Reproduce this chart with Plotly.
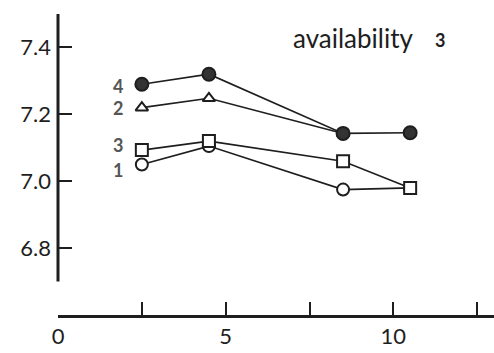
import plotly.graph_objects as go

# Sampling times (x) and responses for the four treatments
x_times = [2.5, 4.5, 8.5, 10.5]
series_1 = [7.05, 7.105, 6.975, 6.98]
series_2 = [7.22, 7.248, 7.143]
series_3 = [7.093, 7.12, 7.06, 6.98]
series_4 = [7.29, 7.32, 7.143, 7.145]

x_tickvals = [0, 2.5, 5, 7.5, 10, 12.5]
x_ticktext = ["0", "", "5", "", "10", ""]
y_tickvals = [6.8, 7.0, 7.2, 7.4]
y_ticktext = ["6.8", "7.0", "7.2", "7.4"]

ink = "#1e1e1e"
label_grey = "#555555"
font_family = "Lato, 'Open Sans', 'DejaVu Sans', sans-serif"

fig = go.Figure()

def add_series(name, ys, symbol, fill, size, yshift=0):
    xs = x_times[:len(ys)]
    fig.add_trace(go.Scatter(
        x=xs, y=ys, mode="lines+markers", name=name,
        line=dict(color=ink, width=1.6),
        marker=dict(symbol=symbol, size=size, color=fill,
                    line=dict(color=ink, width=2)),
        showlegend=False, cliponaxis=False,
    ))
    fig.add_annotation(x=xs[0], y=ys[0], text=f"<b>{name}</b>",
                       showarrow=False, xanchor="right", xshift=-17,
                       yshift=yshift,
                       font=dict(size=18, color=label_grey, family=font_family))

add_series("1", series_1, "circle", "white", 12, yshift=-5)
add_series("3", series_3, "square", "white", 12, yshift=5)
add_series("2", series_2, "triangle-up", "white", 11)
add_series("4", series_4, "circle", "#333333", 13, yshift=-2)

# vertical axis line, stopping short of the horizontal axis
fig.add_shape(type="line", xref="paper", yref="y", x0=0, x1=0, y0=6.7, y1=7.5,
              line=dict(color=ink, width=3))

fig.add_annotation(xref="paper", yref="paper", x=0.535, y=0.92,
                   text="availability",
                   showarrow=False, xanchor="left", yanchor="middle",
                   font=dict(size=26, color=ink, family=font_family))
fig.add_annotation(xref="paper", yref="paper", x=0.876, y=0.915,
                   text="<b>3</b>",
                   showarrow=False, xanchor="center", yanchor="middle",
                   font=dict(size=18, color=ink, family=font_family))

fig.update_layout(
    width=494, height=353,
    margin=dict(l=58, r=0, t=14, b=38),
    paper_bgcolor="white", plot_bgcolor="white",
    xaxis=dict(range=[0, 13], tickvals=x_tickvals, ticktext=x_ticktext,
               ticks="inside", ticklen=13, tickwidth=2, tickcolor=ink,
               showline=True, linecolor=ink, linewidth=3,
               showgrid=False, zeroline=False,
               tickfont=dict(size=22, color=ink, family=font_family)),
    yaxis=dict(range=[6.6, 7.5], tickvals=y_tickvals, ticktext=y_ticktext,
               ticks="inside", ticklen=14, tickwidth=2, tickcolor=ink,
               showline=False, showgrid=False, zeroline=False,
               ticklabelstandoff=6,
               tickfont=dict(size=22, color=ink, family=font_family)),
)

fig.write_html("out.html")
